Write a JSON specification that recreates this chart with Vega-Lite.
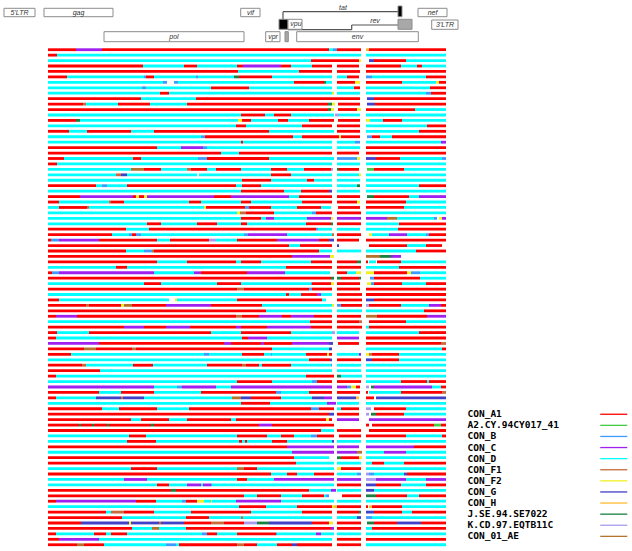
{
"$schema":"https://vega.github.io/schema/vega-lite/v6.json",
"width":632,"height":551,"padding":0,"autosize":{"type":"none"},"background":"white",
"config":{"view":{"stroke":null}},
"datasets":{
"genes":[
{"gene":"5'LTR","start":4,"end":35,"top":0.83,"bottom":1.67,"kind":"box"},
{"gene":"gag","start":44,"end":113,"top":0.83,"bottom":1.67,"kind":"box"},
{"gene":"vif","start":240.7,"end":260,"top":0.83,"bottom":1.67,"kind":"box"},
{"gene":"nef","start":418,"end":447,"top":0.83,"bottom":1.67,"kind":"box"},
{"gene":"tat exon 2","start":398,"end":402,"top":0.6,"bottom":1.67,"kind":"tat"},
{"gene":"tat exon 1","start":279,"end":288,"top":1.93,"bottom":2.93,"kind":"tat"},
{"gene":"vpu","start":288,"end":302,"top":1.93,"bottom":2.93,"kind":"box"},
{"gene":"rev exon 2","start":398,"end":412,"top":1.93,"bottom":2.93,"kind":"rev"},
{"gene":"3'LTR","start":431.7,"end":458,"top":2.0,"bottom":2.93,"kind":"box"},
{"gene":"pol","start":104,"end":244,"top":3.17,"bottom":4.17,"kind":"box"},
{"gene":"vpr","start":265.7,"end":280,"top":3.17,"bottom":4.17,"kind":"box"},
{"gene":"rev exon 1","start":285,"end":288.3,"top":3.17,"bottom":4.17,"kind":"rev"},
{"gene":"env","start":296.7,"end":418.3,"top":3.17,"bottom":4.17,"kind":"box"}
],
"links":[
{"x0":283,"x1":398,"y0":1.17,"y1":1.17},
{"x0":283,"x1":283,"y0":1.17,"y1":2.0},
{"x0":288,"x1":351.7,"y0":2.97,"y1":2.97},
{"x0":351.7,"x1":351.7,"y0":2.5,"y1":2.97},
{"x0":351.7,"x1":398,"y0":2.5,"y1":2.5}
],
"labels":[
{"label":"5'LTR","x":19.5,"y":1.25},
{"label":"gag","x":78.5,"y":1.25},
{"label":"vif","x":250.5,"y":1.25},
{"label":"nef","x":432.5,"y":1.25},
{"label":"tat","x":343,"y":0.82},
{"label":"vpu","x":296,"y":2.43},
{"label":"rev","x":375,"y":2.13},
{"label":"3'LTR","x":445,"y":2.47},
{"label":"pol","x":174,"y":3.67},
{"label":"vpr","x":273,"y":3.67},
{"label":"env","x":357.5,"y":3.67}
],
"segments":[
{"row":1,"start":48,"end":76,"subtype":"CON_A1"},{"row":1,"start":76,"end":102,"subtype":"CON_C"},{"row":1,"start":102,"end":329,"subtype":"CON_A1"},{"row":1,"start":329,"end":333,"subtype":"CON_D"},{"row":1,"start":333,"end":337,"subtype":"CON_B"},{"row":1,"start":337,"end":361,"subtype":"CON_A1"},{"row":1,"start":366,"end":369,"subtype":"CON_H"},{"row":1,"start":369,"end":446,"subtype":"CON_A1"},
{"row":2,"start":48,"end":57,"subtype":"CON_A1"},{"row":2,"start":57,"end":361,"subtype":"CON_D"},{"row":2,"start":366,"end":446,"subtype":"CON_D"},
{"row":3,"start":48,"end":311,"subtype":"CON_D"},{"row":3,"start":311,"end":359,"subtype":"CON_A1"},{"row":3,"start":359,"end":361,"subtype":"CON_F2"},{"row":3,"start":369,"end":374,"subtype":"CON_G"},{"row":3,"start":374,"end":406,"subtype":"CON_A1"},{"row":3,"start":406,"end":446,"subtype":"CON_D"},
{"row":4,"start":48,"end":143,"subtype":"CON_A1"},{"row":4,"start":143,"end":184,"subtype":"CON_D"},{"row":4,"start":184,"end":197,"subtype":"CON_A1"},{"row":4,"start":197,"end":237,"subtype":"CON_D"},{"row":4,"start":237,"end":243,"subtype":"CON_A1"},{"row":4,"start":243,"end":281,"subtype":"CON_C"},{"row":4,"start":281,"end":291,"subtype":"CON_A1"},{"row":4,"start":291,"end":312,"subtype":"CON_D"},{"row":4,"start":312,"end":332,"subtype":"CON_A1"},{"row":4,"start":337,"end":359,"subtype":"CON_A1"},{"row":4,"start":366,"end":401,"subtype":"CON_A1"},{"row":4,"start":401,"end":417,"subtype":"CON_D"},{"row":4,"start":417,"end":422,"subtype":"CON_A1"},{"row":4,"start":422,"end":446,"subtype":"CON_D"},
{"row":5,"start":48,"end":238,"subtype":"CON_A1"},{"row":5,"start":238,"end":299,"subtype":"CON_D"},{"row":5,"start":299,"end":332,"subtype":"CON_A1"},{"row":5,"start":337,"end":360,"subtype":"CON_A1"},{"row":5,"start":366,"end":446,"subtype":"CON_A1"},
{"row":6,"start":48,"end":67,"subtype":"CON_A1"},{"row":6,"start":67,"end":144,"subtype":"CON_D"},{"row":6,"start":144,"end":146,"subtype":"CON_B"},{"row":6,"start":146,"end":154,"subtype":"CON_A1"},{"row":6,"start":154,"end":196,"subtype":"CON_D"},{"row":6,"start":196,"end":198,"subtype":"CON_B"},{"row":6,"start":198,"end":234,"subtype":"CON_D"},{"row":6,"start":234,"end":239,"subtype":"J.SE.94.SE7022"},{"row":6,"start":239,"end":272,"subtype":"CON_A1"},{"row":6,"start":272,"end":332,"subtype":"CON_D"},{"row":6,"start":337,"end":347,"subtype":"CON_D"},{"row":6,"start":347,"end":359,"subtype":"CON_A1"},{"row":6,"start":366,"end":372,"subtype":"CON_B"},{"row":6,"start":372,"end":426,"subtype":"CON_D"},{"row":6,"start":426,"end":446,"subtype":"CON_A1"},
{"row":7,"start":48,"end":163,"subtype":"CON_D"},{"row":7,"start":163,"end":167,"subtype":"CON_B"},{"row":7,"start":174,"end":178,"subtype":"CON_B"},{"row":7,"start":178,"end":294,"subtype":"CON_D"},{"row":7,"start":294,"end":324,"subtype":"CON_A1"},{"row":7,"start":324,"end":326,"subtype":"J.SE.94.SE7022"},{"row":7,"start":326,"end":332,"subtype":"CON_D"},{"row":7,"start":337,"end":355,"subtype":"CON_A1"},{"row":7,"start":355,"end":360,"subtype":"CON_F2"},{"row":7,"start":366,"end":402,"subtype":"CON_A1"},{"row":7,"start":402,"end":436,"subtype":"CON_D"},{"row":7,"start":436,"end":439,"subtype":"CON_F2"},{"row":7,"start":439,"end":446,"subtype":"CON_A1"},
{"row":8,"start":48,"end":142,"subtype":"CON_D"},{"row":8,"start":142,"end":146,"subtype":"CON_B"},{"row":8,"start":146,"end":211,"subtype":"CON_D"},{"row":8,"start":211,"end":249,"subtype":"CON_A1"},{"row":8,"start":249,"end":332,"subtype":"CON_D"},{"row":8,"start":337,"end":354,"subtype":"CON_D"},{"row":8,"start":354,"end":360,"subtype":"CON_A1"},{"row":8,"start":366,"end":430,"subtype":"CON_D"},{"row":8,"start":430,"end":446,"subtype":"CON_A1"},
{"row":9,"start":48,"end":160,"subtype":"CON_D"},{"row":9,"start":160,"end":169,"subtype":"CON_A1"},{"row":9,"start":169,"end":332,"subtype":"CON_D"},{"row":9,"start":332,"end":334,"subtype":"CON_F2"},{"row":9,"start":337,"end":360,"subtype":"CON_D"},{"row":9,"start":366,"end":426,"subtype":"CON_D"},{"row":9,"start":426,"end":431,"subtype":"CON_B"},{"row":9,"start":431,"end":446,"subtype":"CON_A1"},
{"row":10,"start":48,"end":141,"subtype":"CON_A1"},{"row":10,"start":141,"end":196,"subtype":"CON_D"},{"row":10,"start":196,"end":360,"subtype":"CON_A1"},{"row":10,"start":367,"end":374,"subtype":"CON_G"},{"row":10,"start":374,"end":446,"subtype":"CON_A1"},
{"row":11,"start":48,"end":83,"subtype":"CON_A1"},{"row":11,"start":83,"end":86,"subtype":"CON_F1"},{"row":11,"start":86,"end":118,"subtype":"CON_D"},{"row":11,"start":118,"end":150,"subtype":"CON_A1"},{"row":11,"start":150,"end":187,"subtype":"CON_D"},{"row":11,"start":187,"end":328,"subtype":"CON_A1"},{"row":11,"start":328,"end":332,"subtype":"J.SE.94.SE7022"},{"row":11,"start":332,"end":335,"subtype":"CON_F2"},{"row":11,"start":338,"end":360,"subtype":"CON_A1"},{"row":11,"start":367,"end":375,"subtype":"CON_G"},{"row":11,"start":375,"end":446,"subtype":"CON_A1"},
{"row":12,"start":48,"end":328,"subtype":"CON_A1"},{"row":12,"start":328,"end":331,"subtype":"J.SE.94.SE7022"},{"row":12,"start":331,"end":334,"subtype":"CON_F2"},{"row":12,"start":338,"end":357,"subtype":"CON_A1"},{"row":12,"start":357,"end":361,"subtype":"CON_F2"},{"row":12,"start":366,"end":415,"subtype":"CON_A1"},{"row":12,"start":415,"end":446,"subtype":"CON_D"},
{"row":13,"start":48,"end":241,"subtype":"CON_D"},{"row":13,"start":241,"end":265,"subtype":"CON_A1"},{"row":13,"start":265,"end":274,"subtype":"CON_D"},{"row":13,"start":274,"end":291,"subtype":"CON_A1"},{"row":13,"start":291,"end":334,"subtype":"CON_D"},{"row":13,"start":335,"end":339,"subtype":"K.CD.97.EQTB11C"},{"row":13,"start":339,"end":360,"subtype":"CON_D"},{"row":13,"start":366,"end":446,"subtype":"CON_D"},
{"row":14,"start":48,"end":76,"subtype":"CON_A1"},{"row":14,"start":76,"end":80,"subtype":"J.SE.94.SE7022"},{"row":14,"start":80,"end":238,"subtype":"CON_D"},{"row":14,"start":238,"end":242,"subtype":"CON_F2"},{"row":14,"start":242,"end":251,"subtype":"CON_A1"},{"row":14,"start":251,"end":278,"subtype":"CON_D"},{"row":14,"start":278,"end":288,"subtype":"CON_A1"},{"row":14,"start":288,"end":309,"subtype":"CON_D"},{"row":14,"start":309,"end":334,"subtype":"CON_A1"},{"row":14,"start":338,"end":360,"subtype":"CON_A1"},{"row":14,"start":366,"end":370,"subtype":"CON_F2"},{"row":14,"start":370,"end":383,"subtype":"CON_D"},{"row":14,"start":383,"end":402,"subtype":"CON_A1"},{"row":14,"start":402,"end":446,"subtype":"CON_D"},
{"row":15,"start":48,"end":236,"subtype":"CON_D"},{"row":15,"start":236,"end":246,"subtype":"CON_A1"},{"row":15,"start":246,"end":302,"subtype":"CON_D"},{"row":15,"start":302,"end":332,"subtype":"CON_A1"},{"row":15,"start":337,"end":360,"subtype":"CON_A1"},{"row":15,"start":366,"end":427,"subtype":"CON_D"},{"row":15,"start":427,"end":446,"subtype":"CON_A1"},
{"row":16,"start":48,"end":69,"subtype":"CON_A1"},{"row":16,"start":69,"end":87,"subtype":"CON_D"},{"row":16,"start":87,"end":131,"subtype":"CON_A1"},{"row":16,"start":131,"end":154,"subtype":"CON_D"},{"row":16,"start":154,"end":269,"subtype":"CON_A1"},{"row":16,"start":269,"end":334,"subtype":"CON_D"},{"row":16,"start":337,"end":360,"subtype":"CON_A1"},{"row":16,"start":366,"end":419,"subtype":"CON_D"},{"row":16,"start":419,"end":446,"subtype":"CON_A1"},
{"row":17,"start":48,"end":201,"subtype":"CON_D"},{"row":17,"start":201,"end":205,"subtype":"CON_B"},{"row":17,"start":205,"end":293,"subtype":"CON_A1"},{"row":17,"start":293,"end":302,"subtype":"CON_D"},{"row":17,"start":302,"end":339,"subtype":"CON_A1"},{"row":17,"start":339,"end":341,"subtype":"CON_F2"},{"row":17,"start":341,"end":360,"subtype":"CON_A1"},{"row":17,"start":367,"end":372,"subtype":"CON_B"},{"row":17,"start":372,"end":380,"subtype":"CON_A1"},{"row":17,"start":380,"end":392,"subtype":"CON_D"},{"row":17,"start":392,"end":446,"subtype":"CON_A1"},
{"row":18,"start":48,"end":241,"subtype":"CON_D"},{"row":18,"start":241,"end":243,"subtype":"CON_A1"},{"row":18,"start":243,"end":332,"subtype":"CON_D"},{"row":18,"start":337,"end":355,"subtype":"CON_D"},{"row":18,"start":355,"end":360,"subtype":"CON_B"},{"row":18,"start":366,"end":441,"subtype":"CON_D"},{"row":18,"start":441,"end":446,"subtype":"CON_C"},
{"row":19,"start":48,"end":157,"subtype":"CON_A1"},{"row":19,"start":157,"end":181,"subtype":"CON_D"},{"row":19,"start":181,"end":203,"subtype":"CON_C"},{"row":19,"start":203,"end":207,"subtype":"CON_B"},{"row":19,"start":207,"end":332,"subtype":"CON_D"},{"row":19,"start":337,"end":360,"subtype":"CON_D"},{"row":19,"start":366,"end":446,"subtype":"CON_A1"},
{"row":20,"start":48,"end":221,"subtype":"CON_A1"},{"row":20,"start":221,"end":239,"subtype":"CON_D"},{"row":20,"start":239,"end":332,"subtype":"CON_A1"},{"row":20,"start":337,"end":359,"subtype":"CON_A1"},{"row":20,"start":366,"end":446,"subtype":"CON_A1"},
{"row":21,"start":48,"end":64,"subtype":"CON_A1"},{"row":21,"start":64,"end":133,"subtype":"CON_D"},{"row":21,"start":133,"end":141,"subtype":"CON_A1"},{"row":21,"start":141,"end":198,"subtype":"CON_D"},{"row":21,"start":198,"end":207,"subtype":"CON_B"},{"row":21,"start":207,"end":269,"subtype":"CON_A1"},{"row":21,"start":269,"end":334,"subtype":"CON_D"},{"row":21,"start":337,"end":357,"subtype":"CON_B"},{"row":21,"start":357,"end":360,"subtype":"CON_F2"},{"row":21,"start":366,"end":376,"subtype":"CON_G"},{"row":21,"start":376,"end":400,"subtype":"CON_A1"},{"row":21,"start":400,"end":442,"subtype":"CON_D"},{"row":21,"start":442,"end":446,"subtype":"CON_B"},
{"row":22,"start":48,"end":57,"subtype":"CON_A1"},{"row":22,"start":57,"end":332,"subtype":"CON_D"},{"row":22,"start":337,"end":360,"subtype":"CON_D"},{"row":22,"start":366,"end":446,"subtype":"CON_D"},
{"row":23,"start":48,"end":131,"subtype":"CON_D"},{"row":23,"start":131,"end":144,"subtype":"CON_01_AE"},{"row":23,"start":144,"end":161,"subtype":"CON_A1"},{"row":23,"start":161,"end":187,"subtype":"CON_D"},{"row":23,"start":187,"end":191,"subtype":"CON_F1"},{"row":23,"start":191,"end":207,"subtype":"CON_A1"},{"row":23,"start":207,"end":216,"subtype":"CON_D"},{"row":23,"start":216,"end":241,"subtype":"CON_A1"},{"row":23,"start":241,"end":271,"subtype":"CON_D"},{"row":23,"start":271,"end":287,"subtype":"CON_A1"},{"row":23,"start":287,"end":304,"subtype":"CON_D"},{"row":23,"start":304,"end":331,"subtype":"CON_A1"},{"row":23,"start":331,"end":333,"subtype":"K.CD.97.EQTB11C"},{"row":23,"start":337,"end":339,"subtype":"J.SE.94.SE7022"},{"row":23,"start":339,"end":359,"subtype":"CON_A1"},{"row":23,"start":367,"end":374,"subtype":"A2.CY.94CY017_41"},{"row":23,"start":374,"end":404,"subtype":"CON_A1"},{"row":23,"start":404,"end":446,"subtype":"CON_D"},
{"row":24,"start":48,"end":116,"subtype":"CON_D"},{"row":24,"start":116,"end":121,"subtype":"CON_F1"},{"row":24,"start":121,"end":127,"subtype":"CON_G"},{"row":24,"start":127,"end":197,"subtype":"CON_D"},{"row":24,"start":199,"end":271,"subtype":"CON_D"},{"row":24,"start":271,"end":291,"subtype":"CON_A1"},{"row":24,"start":291,"end":332,"subtype":"CON_D"},{"row":24,"start":337,"end":359,"subtype":"CON_D"},{"row":24,"start":359,"end":361,"subtype":"CON_F2"},{"row":24,"start":366,"end":446,"subtype":"CON_D"},
{"row":25,"start":48,"end":242,"subtype":"CON_D"},{"row":25,"start":242,"end":271,"subtype":"CON_A1"},{"row":25,"start":271,"end":307,"subtype":"CON_D"},{"row":25,"start":307,"end":314,"subtype":"CON_A1"},{"row":25,"start":314,"end":332,"subtype":"CON_D"},{"row":25,"start":337,"end":360,"subtype":"CON_D"},{"row":25,"start":366,"end":446,"subtype":"CON_D"},
{"row":26,"start":48,"end":96,"subtype":"CON_A1"},{"row":26,"start":96,"end":102,"subtype":"CON_D"},{"row":26,"start":102,"end":107,"subtype":"CON_B"},{"row":26,"start":107,"end":127,"subtype":"CON_D"},{"row":26,"start":127,"end":236,"subtype":"CON_A1"},{"row":26,"start":236,"end":242,"subtype":"CON_D"},{"row":26,"start":242,"end":261,"subtype":"CON_A1"},{"row":26,"start":261,"end":332,"subtype":"CON_D"},{"row":26,"start":337,"end":357,"subtype":"CON_D"},{"row":26,"start":357,"end":360,"subtype":"J.SE.94.SE7022"},{"row":26,"start":366,"end":419,"subtype":"CON_D"},{"row":26,"start":419,"end":446,"subtype":"CON_A1"},
{"row":27,"start":48,"end":241,"subtype":"CON_D"},{"row":27,"start":241,"end":284,"subtype":"CON_A1"},{"row":27,"start":284,"end":301,"subtype":"CON_D"},{"row":27,"start":301,"end":329,"subtype":"CON_A1"},{"row":27,"start":329,"end":332,"subtype":"CON_G"},{"row":27,"start":337,"end":360,"subtype":"CON_D"},{"row":27,"start":366,"end":446,"subtype":"CON_D"},
{"row":28,"start":48,"end":80,"subtype":"CON_A1"},{"row":28,"start":80,"end":133,"subtype":"CON_C"},{"row":28,"start":133,"end":136,"subtype":"CON_A1"},{"row":28,"start":136,"end":139,"subtype":"CON_F2"},{"row":28,"start":139,"end":144,"subtype":"CON_A1"},{"row":28,"start":144,"end":147,"subtype":"CON_F2"},{"row":28,"start":147,"end":214,"subtype":"CON_C"},{"row":28,"start":214,"end":231,"subtype":"CON_A1"},{"row":28,"start":231,"end":289,"subtype":"CON_C"},{"row":28,"start":289,"end":299,"subtype":"CON_D"},{"row":28,"start":299,"end":332,"subtype":"CON_A1"},{"row":28,"start":337,"end":360,"subtype":"CON_A1"},{"row":28,"start":367,"end":374,"subtype":"J.SE.94.SE7022"},{"row":28,"start":374,"end":409,"subtype":"CON_A1"},{"row":28,"start":409,"end":419,"subtype":"CON_D"},{"row":28,"start":419,"end":446,"subtype":"CON_C"},
{"row":29,"start":48,"end":59,"subtype":"CON_A1"},{"row":29,"start":59,"end":109,"subtype":"CON_D"},{"row":29,"start":109,"end":111,"subtype":"CON_F1"},{"row":29,"start":111,"end":124,"subtype":"CON_A1"},{"row":29,"start":124,"end":189,"subtype":"CON_D"},{"row":29,"start":189,"end":201,"subtype":"CON_A1"},{"row":29,"start":201,"end":241,"subtype":"CON_D"},{"row":29,"start":241,"end":251,"subtype":"CON_A1"},{"row":29,"start":251,"end":302,"subtype":"CON_D"},{"row":29,"start":302,"end":332,"subtype":"CON_A1"},{"row":29,"start":337,"end":357,"subtype":"CON_A1"},{"row":29,"start":357,"end":360,"subtype":"CON_F2"},{"row":29,"start":366,"end":406,"subtype":"CON_A1"},{"row":29,"start":406,"end":446,"subtype":"CON_D"},
{"row":30,"start":48,"end":59,"subtype":"CON_D"},{"row":30,"start":59,"end":87,"subtype":"CON_A1"},{"row":30,"start":87,"end":89,"subtype":"CON_F1"},{"row":30,"start":89,"end":204,"subtype":"CON_D"},{"row":30,"start":204,"end":206,"subtype":"CON_F2"},{"row":30,"start":206,"end":245,"subtype":"CON_A1"},{"row":30,"start":245,"end":249,"subtype":"CON_B"},{"row":30,"start":249,"end":271,"subtype":"CON_A1"},{"row":30,"start":271,"end":297,"subtype":"CON_D"},{"row":30,"start":297,"end":321,"subtype":"CON_A1"},{"row":30,"start":321,"end":331,"subtype":"CON_D"},{"row":30,"start":338,"end":360,"subtype":"CON_A1"},{"row":30,"start":366,"end":404,"subtype":"CON_A1"},{"row":30,"start":404,"end":446,"subtype":"CON_D"},
{"row":31,"start":48,"end":237,"subtype":"CON_D"},{"row":31,"start":237,"end":240,"subtype":"CON_F2"},{"row":31,"start":240,"end":246,"subtype":"CON_F1"},{"row":31,"start":246,"end":274,"subtype":"CON_A1"},{"row":31,"start":274,"end":312,"subtype":"CON_D"},{"row":31,"start":312,"end":316,"subtype":"CON_B"},{"row":31,"start":316,"end":332,"subtype":"CON_A1"},{"row":31,"start":337,"end":361,"subtype":"CON_A1"},{"row":31,"start":366,"end":446,"subtype":"CON_D"},
{"row":32,"start":48,"end":241,"subtype":"CON_D"},{"row":32,"start":241,"end":261,"subtype":"CON_A1"},{"row":32,"start":261,"end":266,"subtype":"CON_D"},{"row":32,"start":266,"end":274,"subtype":"CON_C"},{"row":32,"start":274,"end":307,"subtype":"CON_D"},{"row":32,"start":307,"end":331,"subtype":"CON_C"},{"row":32,"start":331,"end":333,"subtype":"CON_F2"},{"row":32,"start":337,"end":361,"subtype":"CON_C"},{"row":32,"start":366,"end":387,"subtype":"CON_C"},{"row":32,"start":387,"end":397,"subtype":"CON_01_AE"},{"row":32,"start":397,"end":434,"subtype":"CON_D"},{"row":32,"start":434,"end":437,"subtype":"CON_B"},{"row":32,"start":439,"end":442,"subtype":"CON_F2"},{"row":32,"start":442,"end":446,"subtype":"CON_C"},
{"row":33,"start":48,"end":147,"subtype":"CON_D"},{"row":33,"start":147,"end":161,"subtype":"CON_A1"},{"row":33,"start":161,"end":197,"subtype":"CON_D"},{"row":33,"start":197,"end":217,"subtype":"CON_A1"},{"row":33,"start":217,"end":241,"subtype":"CON_D"},{"row":33,"start":241,"end":247,"subtype":"CON_A1"},{"row":33,"start":247,"end":306,"subtype":"CON_D"},{"row":33,"start":306,"end":331,"subtype":"CON_A1"},{"row":33,"start":331,"end":333,"subtype":"J.SE.94.SE7022"},{"row":33,"start":337,"end":361,"subtype":"CON_A1"},{"row":33,"start":366,"end":399,"subtype":"CON_D"},{"row":33,"start":399,"end":446,"subtype":"CON_A1"},
{"row":34,"start":48,"end":126,"subtype":"CON_A1"},{"row":34,"start":126,"end":149,"subtype":"CON_D"},{"row":34,"start":149,"end":316,"subtype":"CON_A1"},{"row":34,"start":316,"end":318,"subtype":"CON_B"},{"row":34,"start":318,"end":332,"subtype":"CON_D"},{"row":34,"start":337,"end":360,"subtype":"CON_D"},{"row":34,"start":366,"end":398,"subtype":"CON_D"},{"row":34,"start":398,"end":446,"subtype":"CON_A1"},
{"row":35,"start":48,"end":112,"subtype":"CON_A1"},{"row":35,"start":112,"end":129,"subtype":"CON_D"},{"row":35,"start":129,"end":132,"subtype":"CON_B"},{"row":35,"start":132,"end":136,"subtype":"CON_A1"},{"row":35,"start":136,"end":141,"subtype":"CON_B"},{"row":35,"start":141,"end":244,"subtype":"CON_D"},{"row":35,"start":244,"end":248,"subtype":"CON_B"},{"row":35,"start":248,"end":287,"subtype":"CON_C"},{"row":35,"start":287,"end":332,"subtype":"CON_D"},{"row":35,"start":332,"end":334,"subtype":"CON_F1"},{"row":35,"start":337,"end":361,"subtype":"CON_A1"},{"row":35,"start":369,"end":372,"subtype":"CON_F2"},{"row":35,"start":372,"end":389,"subtype":"CON_D"},{"row":35,"start":389,"end":407,"subtype":"CON_C"},{"row":35,"start":407,"end":426,"subtype":"CON_D"},{"row":35,"start":426,"end":429,"subtype":"CON_B"},{"row":35,"start":429,"end":446,"subtype":"CON_A1"},
{"row":36,"start":48,"end":51,"subtype":"CON_A1"},{"row":36,"start":51,"end":59,"subtype":"CON_B"},{"row":36,"start":59,"end":99,"subtype":"CON_C"},{"row":36,"start":99,"end":157,"subtype":"CON_A1"},{"row":36,"start":157,"end":170,"subtype":"CON_D"},{"row":36,"start":170,"end":209,"subtype":"CON_A1"},{"row":36,"start":209,"end":216,"subtype":"K.CD.97.EQTB11C"},{"row":36,"start":216,"end":237,"subtype":"CON_D"},{"row":36,"start":237,"end":277,"subtype":"CON_A1"},{"row":36,"start":277,"end":319,"subtype":"CON_C"},{"row":36,"start":319,"end":329,"subtype":"CON_A1"},{"row":36,"start":329,"end":334,"subtype":"CON_G"},{"row":36,"start":337,"end":359,"subtype":"CON_A1"},{"row":36,"start":366,"end":446,"subtype":"CON_A1"},
{"row":37,"start":48,"end":289,"subtype":"CON_A1"},{"row":37,"start":289,"end":300,"subtype":"CON_D"},{"row":37,"start":300,"end":332,"subtype":"CON_A1"},{"row":37,"start":337,"end":339,"subtype":"CON_G"},{"row":37,"start":369,"end":407,"subtype":"CON_A1"},{"row":37,"start":407,"end":426,"subtype":"CON_D"},{"row":37,"start":426,"end":442,"subtype":"CON_A1"},
{"row":38,"start":48,"end":126,"subtype":"CON_A1"},{"row":38,"start":126,"end":144,"subtype":"CON_D"},{"row":38,"start":144,"end":152,"subtype":"CON_B"},{"row":38,"start":152,"end":154,"subtype":"CON_F1"},{"row":38,"start":154,"end":319,"subtype":"CON_A1"},{"row":38,"start":319,"end":332,"subtype":"CON_D"},{"row":38,"start":337,"end":361,"subtype":"CON_D"},{"row":38,"start":366,"end":416,"subtype":"CON_D"},{"row":38,"start":416,"end":446,"subtype":"CON_A1"},
{"row":39,"start":48,"end":292,"subtype":"CON_A1"},{"row":39,"start":292,"end":330,"subtype":"CON_C"},{"row":39,"start":330,"end":334,"subtype":"CON_F2"},{"row":39,"start":366,"end":380,"subtype":"CON_01_AE"},{"row":39,"start":380,"end":391,"subtype":"J.SE.94.SE7022"},{"row":39,"start":391,"end":401,"subtype":"CON_C"},
{"row":40,"start":48,"end":157,"subtype":"CON_A1"},{"row":40,"start":157,"end":187,"subtype":"CON_D"},{"row":40,"start":187,"end":236,"subtype":"CON_A1"},{"row":40,"start":236,"end":241,"subtype":"CON_D"},{"row":40,"start":241,"end":261,"subtype":"CON_A1"},{"row":40,"start":261,"end":311,"subtype":"CON_D"},{"row":40,"start":311,"end":332,"subtype":"CON_A1"},{"row":40,"start":337,"end":357,"subtype":"CON_A1"},{"row":40,"start":357,"end":361,"subtype":"J.SE.94.SE7022"},{"row":40,"start":366,"end":368,"subtype":"CON_A1"},{"row":40,"start":369,"end":376,"subtype":"CON_D"},{"row":40,"start":377,"end":401,"subtype":"CON_A1"},{"row":40,"start":401,"end":446,"subtype":"CON_D"},
{"row":41,"start":48,"end":116,"subtype":"CON_D"},{"row":41,"start":116,"end":127,"subtype":"CON_A1"},{"row":41,"start":127,"end":286,"subtype":"CON_D"},{"row":41,"start":286,"end":332,"subtype":"CON_A1"},{"row":41,"start":337,"end":361,"subtype":"CON_A1"},{"row":41,"start":366,"end":399,"subtype":"CON_D"},{"row":41,"start":399,"end":446,"subtype":"CON_A1"},
{"row":42,"start":48,"end":52,"subtype":"CON_A1"},{"row":42,"start":52,"end":59,"subtype":"CON_B"},{"row":42,"start":59,"end":154,"subtype":"CON_C"},{"row":42,"start":154,"end":194,"subtype":"CON_D"},{"row":42,"start":194,"end":201,"subtype":"CON_C"},{"row":42,"start":201,"end":247,"subtype":"CON_A1"},{"row":42,"start":247,"end":285,"subtype":"CON_C"},{"row":42,"start":285,"end":330,"subtype":"CON_D"},{"row":42,"start":337,"end":347,"subtype":"CON_A1"},{"row":42,"start":347,"end":356,"subtype":"CON_D"},{"row":42,"start":356,"end":361,"subtype":"CON_F2"},{"row":42,"start":366,"end":374,"subtype":"CON_F2"},{"row":42,"start":374,"end":407,"subtype":"CON_A1"},{"row":42,"start":407,"end":411,"subtype":"CON_F2"},{"row":42,"start":411,"end":420,"subtype":"CON_B"},{"row":42,"start":420,"end":446,"subtype":"CON_D"},
{"row":43,"start":48,"end":331,"subtype":"CON_A1"},{"row":43,"start":331,"end":334,"subtype":"J.SE.94.SE7022"},{"row":43,"start":337,"end":341,"subtype":"J.SE.94.SE7022"},{"row":43,"start":341,"end":359,"subtype":"CON_A1"},{"row":43,"start":359,"end":361,"subtype":"J.SE.94.SE7022"},{"row":43,"start":370,"end":374,"subtype":"CON_B"},{"row":43,"start":374,"end":420,"subtype":"CON_A1"},{"row":43,"start":420,"end":446,"subtype":"CON_D"},
{"row":44,"start":48,"end":144,"subtype":"CON_D"},{"row":44,"start":144,"end":161,"subtype":"CON_A1"},{"row":44,"start":161,"end":217,"subtype":"CON_D"},{"row":44,"start":217,"end":241,"subtype":"CON_A1"},{"row":44,"start":241,"end":311,"subtype":"CON_D"},{"row":44,"start":311,"end":312,"subtype":"CON_B"},{"row":44,"start":312,"end":331,"subtype":"CON_A1"},{"row":44,"start":331,"end":334,"subtype":"CON_F2"},{"row":44,"start":337,"end":360,"subtype":"CON_A1"},{"row":44,"start":367,"end":371,"subtype":"CON_F2"},{"row":44,"start":371,"end":374,"subtype":"CON_B"},{"row":44,"start":374,"end":402,"subtype":"CON_A1"},{"row":44,"start":402,"end":426,"subtype":"CON_D"},{"row":44,"start":426,"end":446,"subtype":"CON_A1"},
{"row":45,"start":48,"end":237,"subtype":"CON_A1"},{"row":45,"start":237,"end":244,"subtype":"CON_F1"},{"row":45,"start":244,"end":309,"subtype":"CON_A1"},{"row":45,"start":309,"end":312,"subtype":"CON_B"},{"row":45,"start":312,"end":332,"subtype":"CON_A1"},{"row":45,"start":337,"end":360,"subtype":"CON_A1"},{"row":45,"start":366,"end":446,"subtype":"CON_A1"},
{"row":46,"start":48,"end":286,"subtype":"CON_D"},{"row":46,"start":286,"end":289,"subtype":"CON_A1"},{"row":46,"start":289,"end":301,"subtype":"CON_D"},{"row":46,"start":301,"end":317,"subtype":"CON_A1"},{"row":46,"start":317,"end":321,"subtype":"CON_C"},{"row":46,"start":321,"end":332,"subtype":"CON_D"},{"row":46,"start":337,"end":362,"subtype":"CON_A1"},{"row":46,"start":366,"end":446,"subtype":"CON_A1"},
{"row":47,"start":48,"end":59,"subtype":"CON_A1"},{"row":47,"start":59,"end":169,"subtype":"CON_D"},{"row":47,"start":175,"end":177,"subtype":"CON_F2"},{"row":47,"start":177,"end":237,"subtype":"CON_D"},{"row":47,"start":237,"end":322,"subtype":"CON_A1"},{"row":47,"start":322,"end":326,"subtype":"CON_D"},{"row":47,"start":337,"end":362,"subtype":"CON_A1"},{"row":47,"start":366,"end":374,"subtype":"CON_G"},{"row":47,"start":374,"end":446,"subtype":"CON_A1"},
{"row":48,"start":48,"end":86,"subtype":"CON_A1"},{"row":48,"start":86,"end":89,"subtype":"CON_F1"},{"row":48,"start":89,"end":121,"subtype":"CON_A1"},{"row":48,"start":121,"end":124,"subtype":"CON_F2"},{"row":48,"start":124,"end":132,"subtype":"CON_01_AE"},{"row":48,"start":132,"end":166,"subtype":"CON_A1"},{"row":48,"start":166,"end":211,"subtype":"CON_C"},{"row":48,"start":211,"end":262,"subtype":"CON_A1"},{"row":48,"start":262,"end":332,"subtype":"CON_D"},{"row":48,"start":332,"end":334,"subtype":"CON_F2"},{"row":48,"start":337,"end":341,"subtype":"CON_B"},{"row":48,"start":341,"end":362,"subtype":"CON_A1"},{"row":48,"start":366,"end":369,"subtype":"K.CD.97.EQTB11C"},{"row":48,"start":369,"end":401,"subtype":"CON_A1"},{"row":48,"start":401,"end":429,"subtype":"CON_D"},{"row":48,"start":429,"end":441,"subtype":"CON_C"},{"row":48,"start":441,"end":446,"subtype":"CON_A1"},
{"row":49,"start":48,"end":266,"subtype":"CON_A1"},{"row":49,"start":266,"end":332,"subtype":"CON_D"},{"row":49,"start":337,"end":362,"subtype":"CON_D"},{"row":49,"start":366,"end":424,"subtype":"CON_D"},{"row":49,"start":424,"end":446,"subtype":"CON_A1"},
{"row":50,"start":48,"end":56,"subtype":"CON_A1"},{"row":50,"start":56,"end":77,"subtype":"CON_C"},{"row":50,"start":77,"end":236,"subtype":"CON_A1"},{"row":50,"start":236,"end":242,"subtype":"CON_F1"},{"row":50,"start":242,"end":259,"subtype":"CON_A1"},{"row":50,"start":259,"end":282,"subtype":"CON_C"},{"row":50,"start":282,"end":291,"subtype":"CON_A1"},{"row":50,"start":291,"end":314,"subtype":"CON_C"},{"row":50,"start":314,"end":332,"subtype":"CON_A1"},{"row":50,"start":337,"end":361,"subtype":"CON_A1"},{"row":50,"start":366,"end":377,"subtype":"CON_01_AE"},{"row":50,"start":377,"end":427,"subtype":"CON_A1"},{"row":50,"start":427,"end":446,"subtype":"CON_C"},
{"row":51,"start":48,"end":310,"subtype":"CON_D"},{"row":51,"start":310,"end":332,"subtype":"CON_A1"},{"row":51,"start":337,"end":359,"subtype":"CON_A1"},{"row":51,"start":359,"end":362,"subtype":"CON_F1"},{"row":51,"start":369,"end":406,"subtype":"CON_A1"},{"row":51,"start":406,"end":446,"subtype":"CON_D"},
{"row":52,"start":48,"end":124,"subtype":"CON_A1"},{"row":52,"start":124,"end":144,"subtype":"CON_C"},{"row":52,"start":144,"end":166,"subtype":"CON_A1"},{"row":52,"start":166,"end":190,"subtype":"CON_C"},{"row":52,"start":190,"end":236,"subtype":"CON_A1"},{"row":52,"start":236,"end":241,"subtype":"CON_C"},{"row":52,"start":241,"end":267,"subtype":"CON_A1"},{"row":52,"start":267,"end":311,"subtype":"CON_C"},{"row":52,"start":311,"end":332,"subtype":"CON_A1"},{"row":52,"start":337,"end":362,"subtype":"CON_A1"},{"row":52,"start":366,"end":369,"subtype":"CON_D"},{"row":52,"start":369,"end":446,"subtype":"CON_A1"},
{"row":53,"start":48,"end":57,"subtype":"CON_A1"},{"row":53,"start":57,"end":89,"subtype":"CON_D"},{"row":53,"start":89,"end":211,"subtype":"CON_A1"},{"row":53,"start":211,"end":241,"subtype":"CON_D"},{"row":53,"start":241,"end":291,"subtype":"CON_A1"},{"row":53,"start":291,"end":332,"subtype":"CON_D"},{"row":53,"start":332,"end":335,"subtype":"K.CD.97.EQTB11C"},{"row":53,"start":337,"end":359,"subtype":"CON_D"},{"row":53,"start":366,"end":419,"subtype":"CON_D"},{"row":53,"start":419,"end":446,"subtype":"CON_A1"},
{"row":54,"start":48,"end":56,"subtype":"CON_A1"},{"row":54,"start":56,"end":242,"subtype":"CON_D"},{"row":54,"start":242,"end":248,"subtype":"CON_A1"},{"row":54,"start":248,"end":267,"subtype":"CON_C"},{"row":54,"start":267,"end":332,"subtype":"CON_D"},{"row":54,"start":337,"end":359,"subtype":"CON_C"},{"row":54,"start":366,"end":446,"subtype":"CON_A1"},
{"row":55,"start":48,"end":99,"subtype":"CON_C"},{"row":55,"start":99,"end":224,"subtype":"CON_A1"},{"row":55,"start":224,"end":231,"subtype":"CON_C"},{"row":55,"start":231,"end":261,"subtype":"CON_A1"},{"row":55,"start":261,"end":264,"subtype":"CON_C"},{"row":55,"start":264,"end":292,"subtype":"CON_A1"},{"row":55,"start":292,"end":329,"subtype":"CON_C"},{"row":55,"start":329,"end":333,"subtype":"CON_G"},{"row":55,"start":338,"end":359,"subtype":"CON_A1"},{"row":55,"start":366,"end":441,"subtype":"CON_A1"},{"row":55,"start":441,"end":446,"subtype":"CON_F1"},
{"row":56,"start":48,"end":84,"subtype":"CON_A1"},{"row":56,"start":84,"end":96,"subtype":"CON_01_AE"},{"row":56,"start":96,"end":132,"subtype":"CON_A1"},{"row":56,"start":132,"end":136,"subtype":"CON_F1"},{"row":56,"start":136,"end":272,"subtype":"CON_A1"},{"row":56,"start":272,"end":329,"subtype":"CON_D"},{"row":56,"start":329,"end":332,"subtype":"CON_G"},{"row":56,"start":366,"end":442,"subtype":"CON_D"},{"row":56,"start":442,"end":446,"subtype":"CON_A1"},
{"row":57,"start":48,"end":71,"subtype":"CON_A1"},{"row":57,"start":71,"end":204,"subtype":"CON_D"},{"row":57,"start":204,"end":209,"subtype":"CON_B"},{"row":57,"start":209,"end":242,"subtype":"CON_D"},{"row":57,"start":242,"end":264,"subtype":"CON_A1"},{"row":57,"start":264,"end":271,"subtype":"CON_D"},{"row":57,"start":271,"end":272,"subtype":"CON_B"},{"row":57,"start":272,"end":306,"subtype":"CON_D"},{"row":57,"start":306,"end":327,"subtype":"CON_A1"},{"row":57,"start":327,"end":329,"subtype":"CON_F2"},{"row":57,"start":329,"end":332,"subtype":"CON_A1"},{"row":57,"start":337,"end":359,"subtype":"CON_D"},{"row":57,"start":359,"end":361,"subtype":"CON_C"},{"row":57,"start":366,"end":369,"subtype":"CON_F2"},{"row":57,"start":369,"end":372,"subtype":"CON_F1"},{"row":57,"start":372,"end":399,"subtype":"CON_A1"},{"row":57,"start":399,"end":446,"subtype":"CON_D"},
{"row":58,"start":48,"end":309,"subtype":"CON_D"},{"row":58,"start":309,"end":330,"subtype":"CON_A1"},{"row":58,"start":330,"end":332,"subtype":"CON_G"},{"row":58,"start":337,"end":361,"subtype":"CON_A1"},{"row":58,"start":366,"end":372,"subtype":"CON_G"},{"row":58,"start":372,"end":399,"subtype":"CON_A1"},{"row":58,"start":399,"end":446,"subtype":"CON_D"},
{"row":59,"start":48,"end":82,"subtype":"CON_A1"},{"row":59,"start":82,"end":86,"subtype":"CON_F1"},{"row":59,"start":86,"end":133,"subtype":"CON_D"},{"row":59,"start":133,"end":153,"subtype":"CON_A1"},{"row":59,"start":153,"end":207,"subtype":"CON_D"},{"row":59,"start":207,"end":242,"subtype":"CON_A1"},{"row":59,"start":242,"end":246,"subtype":"CON_F1"},{"row":59,"start":246,"end":259,"subtype":"CON_A1"},{"row":59,"start":259,"end":262,"subtype":"CON_D"},{"row":59,"start":262,"end":291,"subtype":"CON_A1"},{"row":59,"start":291,"end":331,"subtype":"CON_D"},{"row":59,"start":331,"end":332,"subtype":"CON_B"},{"row":59,"start":337,"end":361,"subtype":"CON_D"},{"row":59,"start":366,"end":446,"subtype":"CON_D"},
{"row":60,"start":48,"end":100,"subtype":"CON_A1"},{"row":60,"start":100,"end":332,"subtype":"CON_D"},{"row":60,"start":337,"end":361,"subtype":"CON_D"},{"row":60,"start":366,"end":446,"subtype":"CON_D"},
{"row":61,"start":48,"end":56,"subtype":"CON_A1"},{"row":61,"start":56,"end":306,"subtype":"CON_D"},{"row":61,"start":306,"end":334,"subtype":"CON_A1"},{"row":61,"start":337,"end":341,"subtype":"J.SE.94.SE7022"},{"row":61,"start":341,"end":362,"subtype":"CON_D"},{"row":61,"start":366,"end":446,"subtype":"CON_D"},
{"row":62,"start":48,"end":237,"subtype":"CON_D"},{"row":62,"start":237,"end":272,"subtype":"CON_A1"},{"row":62,"start":272,"end":312,"subtype":"CON_D"},{"row":62,"start":312,"end":317,"subtype":"CON_B"},{"row":62,"start":317,"end":332,"subtype":"CON_A1"},{"row":62,"start":337,"end":361,"subtype":"CON_A1"},{"row":62,"start":366,"end":401,"subtype":"CON_D"},{"row":62,"start":401,"end":427,"subtype":"CON_A1"},{"row":62,"start":427,"end":429,"subtype":"CON_D"},{"row":62,"start":429,"end":446,"subtype":"CON_A1"},
{"row":63,"start":48,"end":154,"subtype":"CON_C"},{"row":63,"start":154,"end":177,"subtype":"CON_D"},{"row":63,"start":177,"end":182,"subtype":"CON_B"},{"row":63,"start":182,"end":216,"subtype":"CON_C"},{"row":63,"start":216,"end":231,"subtype":"CON_D"},{"row":63,"start":231,"end":332,"subtype":"CON_C"},{"row":63,"start":337,"end":347,"subtype":"CON_C"},{"row":63,"start":347,"end":351,"subtype":"CON_B"},{"row":63,"start":351,"end":356,"subtype":"CON_F2"},{"row":63,"start":356,"end":360,"subtype":"CON_A1"},{"row":63,"start":366,"end":369,"subtype":"K.CD.97.EQTB11C"},{"row":63,"start":371,"end":374,"subtype":"J.SE.94.SE7022"},{"row":63,"start":374,"end":432,"subtype":"CON_C"},{"row":63,"start":432,"end":441,"subtype":"CON_D"},{"row":63,"start":441,"end":446,"subtype":"CON_A1"},
{"row":64,"start":48,"end":99,"subtype":"CON_A1"},{"row":64,"start":99,"end":121,"subtype":"CON_D"},{"row":64,"start":121,"end":154,"subtype":"CON_A1"},{"row":64,"start":154,"end":201,"subtype":"CON_D"},{"row":64,"start":201,"end":276,"subtype":"CON_A1"},{"row":64,"start":276,"end":281,"subtype":"CON_B"},{"row":64,"start":281,"end":309,"subtype":"CON_D"},{"row":64,"start":309,"end":332,"subtype":"CON_A1"},{"row":64,"start":337,"end":360,"subtype":"CON_A1"},{"row":64,"start":366,"end":368,"subtype":"CON_A1"},{"row":64,"start":369,"end":401,"subtype":"CON_D"},{"row":64,"start":401,"end":442,"subtype":"CON_A1"},{"row":64,"start":442,"end":446,"subtype":"CON_F1"},
{"row":65,"start":48,"end":56,"subtype":"CON_A1"},{"row":65,"start":56,"end":96,"subtype":"CON_D"},{"row":65,"start":96,"end":121,"subtype":"CON_G"},{"row":65,"start":121,"end":123,"subtype":"CON_F1"},{"row":65,"start":123,"end":144,"subtype":"CON_G"},{"row":65,"start":144,"end":232,"subtype":"CON_D"},{"row":65,"start":232,"end":241,"subtype":"CON_01_AE"},{"row":65,"start":241,"end":251,"subtype":"CON_G"},{"row":65,"start":251,"end":281,"subtype":"CON_A1"},{"row":65,"start":281,"end":312,"subtype":"CON_D"},{"row":65,"start":312,"end":324,"subtype":"CON_G"},{"row":65,"start":324,"end":332,"subtype":"CON_C"},{"row":65,"start":337,"end":356,"subtype":"CON_G"},{"row":65,"start":356,"end":359,"subtype":"CON_H"},{"row":65,"start":366,"end":374,"subtype":"CON_A1"},{"row":65,"start":376,"end":446,"subtype":"CON_G"},
{"row":66,"start":48,"end":241,"subtype":"CON_D"},{"row":66,"start":241,"end":270,"subtype":"CON_A1"},{"row":66,"start":270,"end":327,"subtype":"CON_D"},{"row":66,"start":327,"end":336,"subtype":"CON_C"},{"row":66,"start":337,"end":359,"subtype":"CON_D"},{"row":66,"start":366,"end":446,"subtype":"CON_D"},
{"row":67,"start":48,"end":102,"subtype":"CON_A1"},{"row":67,"start":102,"end":119,"subtype":"CON_D"},{"row":67,"start":119,"end":157,"subtype":"CON_A1"},{"row":67,"start":157,"end":189,"subtype":"CON_D"},{"row":67,"start":189,"end":311,"subtype":"CON_A1"},{"row":67,"start":311,"end":319,"subtype":"CON_B"},{"row":67,"start":319,"end":334,"subtype":"CON_A1"},{"row":67,"start":337,"end":341,"subtype":"CON_D"},{"row":67,"start":341,"end":359,"subtype":"CON_A1"},{"row":67,"start":366,"end":371,"subtype":"K.CD.97.EQTB11C"},{"row":67,"start":374,"end":406,"subtype":"CON_A1"},{"row":67,"start":406,"end":446,"subtype":"CON_D"},
{"row":68,"start":48,"end":329,"subtype":"CON_A1"},{"row":68,"start":329,"end":334,"subtype":"CON_G"},{"row":68,"start":337,"end":359,"subtype":"CON_A1"},{"row":68,"start":366,"end":369,"subtype":"K.CD.97.EQTB11C"},{"row":68,"start":371,"end":376,"subtype":"J.SE.94.SE7022"},{"row":68,"start":376,"end":404,"subtype":"CON_A1"},{"row":68,"start":404,"end":446,"subtype":"CON_D"},
{"row":69,"start":48,"end":131,"subtype":"CON_A1"},{"row":69,"start":131,"end":141,"subtype":"CON_D"},{"row":69,"start":141,"end":169,"subtype":"CON_A1"},{"row":69,"start":169,"end":187,"subtype":"CON_D"},{"row":69,"start":187,"end":231,"subtype":"CON_A1"},{"row":69,"start":231,"end":236,"subtype":"CON_D"},{"row":69,"start":236,"end":326,"subtype":"CON_A1"},{"row":69,"start":326,"end":329,"subtype":"CON_F2"},{"row":69,"start":329,"end":332,"subtype":"CON_A1"},{"row":69,"start":337,"end":359,"subtype":"CON_C"},{"row":69,"start":369,"end":446,"subtype":"CON_C"},
{"row":70,"start":48,"end":79,"subtype":"CON_A1"},{"row":70,"start":79,"end":81,"subtype":"J.SE.94.SE7022"},{"row":70,"start":81,"end":92,"subtype":"CON_A1"},{"row":70,"start":92,"end":94,"subtype":"J.SE.94.SE7022"},{"row":70,"start":94,"end":107,"subtype":"CON_A1"},{"row":70,"start":107,"end":109,"subtype":"J.SE.94.SE7022"},{"row":70,"start":109,"end":151,"subtype":"CON_A1"},{"row":70,"start":151,"end":154,"subtype":"J.SE.94.SE7022"},{"row":70,"start":154,"end":259,"subtype":"CON_A1"},{"row":70,"start":259,"end":272,"subtype":"CON_C"},{"row":70,"start":272,"end":334,"subtype":"CON_A1"},{"row":70,"start":366,"end":369,"subtype":"CON_A1"},{"row":70,"start":372,"end":434,"subtype":"CON_A1"},{"row":70,"start":434,"end":441,"subtype":"A2.CY.94CY017_41"},{"row":70,"start":441,"end":446,"subtype":"CON_A1"},
{"row":71,"start":48,"end":321,"subtype":"CON_A1"},{"row":71,"start":321,"end":334,"subtype":"CON_D"},{"row":71,"start":337,"end":361,"subtype":"CON_A1"},{"row":71,"start":369,"end":446,"subtype":"CON_A1"},
{"row":72,"start":48,"end":129,"subtype":"CON_D"},{"row":72,"start":129,"end":146,"subtype":"CON_A1"},{"row":72,"start":146,"end":237,"subtype":"CON_D"},{"row":72,"start":237,"end":267,"subtype":"CON_A1"},{"row":72,"start":267,"end":281,"subtype":"CON_D"},{"row":72,"start":281,"end":294,"subtype":"CON_A1"},{"row":72,"start":294,"end":311,"subtype":"CON_D"},{"row":72,"start":311,"end":317,"subtype":"CON_B"},{"row":72,"start":317,"end":334,"subtype":"CON_A1"},{"row":72,"start":339,"end":361,"subtype":"CON_A1"},{"row":72,"start":366,"end":406,"subtype":"CON_A1"},{"row":72,"start":406,"end":442,"subtype":"CON_D"},{"row":72,"start":442,"end":446,"subtype":"CON_A1"},
{"row":73,"start":48,"end":127,"subtype":"CON_D"},{"row":73,"start":127,"end":156,"subtype":"CON_A1"},{"row":73,"start":156,"end":239,"subtype":"CON_D"},{"row":73,"start":239,"end":242,"subtype":"CON_A1"},{"row":73,"start":242,"end":245,"subtype":"CON_D"},{"row":73,"start":245,"end":247,"subtype":"CON_A1"},{"row":73,"start":247,"end":272,"subtype":"CON_D"},{"row":73,"start":272,"end":287,"subtype":"CON_A1"},{"row":73,"start":287,"end":332,"subtype":"CON_D"},{"row":73,"start":332,"end":334,"subtype":"CON_G"},{"row":73,"start":337,"end":361,"subtype":"CON_D"},{"row":73,"start":366,"end":446,"subtype":"CON_D"},
{"row":74,"start":48,"end":287,"subtype":"CON_A1"},{"row":74,"start":287,"end":334,"subtype":"CON_C"},{"row":74,"start":337,"end":359,"subtype":"CON_C"},{"row":74,"start":366,"end":414,"subtype":"CON_C"},{"row":74,"start":414,"end":446,"subtype":"CON_A1"},
{"row":75,"start":48,"end":292,"subtype":"CON_D"},{"row":75,"start":292,"end":334,"subtype":"CON_C"},{"row":75,"start":337,"end":357,"subtype":"CON_C"},{"row":75,"start":357,"end":362,"subtype":"CON_01_AE"},{"row":75,"start":366,"end":384,"subtype":"CON_D"},{"row":75,"start":384,"end":406,"subtype":"CON_C"},{"row":75,"start":406,"end":446,"subtype":"CON_D"},
{"row":76,"start":48,"end":294,"subtype":"CON_A1"},{"row":76,"start":294,"end":329,"subtype":"CON_D"},{"row":76,"start":337,"end":341,"subtype":"J.SE.94.SE7022"},{"row":76,"start":341,"end":359,"subtype":"CON_A1"},{"row":76,"start":359,"end":362,"subtype":"CON_F2"},{"row":76,"start":366,"end":446,"subtype":"CON_D"},
{"row":77,"start":48,"end":296,"subtype":"CON_A1"},{"row":77,"start":296,"end":334,"subtype":"CON_D"},{"row":77,"start":337,"end":361,"subtype":"CON_D"},{"row":77,"start":366,"end":372,"subtype":"CON_D"},{"row":77,"start":372,"end":384,"subtype":"CON_A1"},{"row":77,"start":384,"end":404,"subtype":"CON_D"},{"row":77,"start":404,"end":446,"subtype":"CON_A1"},
{"row":78,"start":48,"end":131,"subtype":"CON_D"},{"row":78,"start":131,"end":157,"subtype":"CON_A1"},{"row":78,"start":157,"end":237,"subtype":"CON_D"},{"row":78,"start":237,"end":244,"subtype":"CON_01_AE"},{"row":78,"start":244,"end":257,"subtype":"CON_A1"},{"row":78,"start":257,"end":334,"subtype":"CON_D"},{"row":78,"start":337,"end":341,"subtype":"CON_F2"},{"row":78,"start":341,"end":361,"subtype":"CON_A1"},{"row":78,"start":366,"end":446,"subtype":"CON_D"},
{"row":79,"start":48,"end":271,"subtype":"CON_A1"},{"row":79,"start":271,"end":287,"subtype":"CON_D"},{"row":79,"start":287,"end":297,"subtype":"CON_A1"},{"row":79,"start":297,"end":314,"subtype":"CON_D"},{"row":79,"start":314,"end":334,"subtype":"CON_A1"},{"row":79,"start":337,"end":357,"subtype":"CON_D"},{"row":79,"start":357,"end":361,"subtype":"CON_B"},{"row":79,"start":366,"end":369,"subtype":"K.CD.97.EQTB11C"},{"row":79,"start":369,"end":374,"subtype":"CON_B"},{"row":79,"start":374,"end":404,"subtype":"CON_D"},{"row":79,"start":404,"end":407,"subtype":"CON_G"},{"row":79,"start":407,"end":446,"subtype":"CON_A1"},
{"row":80,"start":48,"end":124,"subtype":"CON_D"},{"row":80,"start":124,"end":147,"subtype":"CON_C"},{"row":80,"start":147,"end":237,"subtype":"CON_D"},{"row":80,"start":237,"end":247,"subtype":"CON_A1"},{"row":80,"start":247,"end":274,"subtype":"CON_D"},{"row":80,"start":274,"end":334,"subtype":"CON_C"},{"row":80,"start":337,"end":361,"subtype":"CON_C"},{"row":80,"start":366,"end":376,"subtype":"K.CD.97.EQTB11C"},{"row":80,"start":376,"end":406,"subtype":"CON_C"},{"row":80,"start":406,"end":426,"subtype":"CON_D"},{"row":80,"start":426,"end":446,"subtype":"CON_C"},
{"row":81,"start":48,"end":157,"subtype":"CON_D"},{"row":81,"start":157,"end":169,"subtype":"CON_A1"},{"row":81,"start":169,"end":187,"subtype":"CON_D"},{"row":81,"start":187,"end":201,"subtype":"CON_C"},{"row":81,"start":201,"end":203,"subtype":"CON_D"},{"row":81,"start":203,"end":211,"subtype":"CON_C"},{"row":81,"start":211,"end":212,"subtype":"CON_B"},{"row":81,"start":212,"end":334,"subtype":"CON_D"},{"row":81,"start":337,"end":361,"subtype":"CON_A1"},{"row":81,"start":366,"end":376,"subtype":"CON_G"},{"row":81,"start":376,"end":401,"subtype":"CON_A1"},{"row":81,"start":401,"end":426,"subtype":"CON_D"},{"row":81,"start":426,"end":446,"subtype":"CON_A1"},
{"row":82,"start":48,"end":171,"subtype":"CON_A1"},{"row":82,"start":171,"end":176,"subtype":"J.SE.94.SE7022"},{"row":82,"start":176,"end":309,"subtype":"CON_A1"},{"row":82,"start":309,"end":331,"subtype":"CON_D"},{"row":82,"start":331,"end":336,"subtype":"CON_C"},{"row":82,"start":337,"end":361,"subtype":"CON_D"},{"row":82,"start":366,"end":374,"subtype":"CON_G"},{"row":82,"start":374,"end":446,"subtype":"CON_D"},
{"row":83,"start":48,"end":244,"subtype":"CON_A1"},{"row":83,"start":244,"end":257,"subtype":"CON_D"},{"row":83,"start":257,"end":281,"subtype":"CON_A1"},{"row":83,"start":281,"end":302,"subtype":"CON_D"},{"row":83,"start":302,"end":324,"subtype":"CON_A1"},{"row":83,"start":324,"end":326,"subtype":"CON_D"},{"row":83,"start":326,"end":329,"subtype":"CON_B"},{"row":83,"start":342,"end":361,"subtype":"CON_A1"},{"row":83,"start":366,"end":376,"subtype":"J.SE.94.SE7022"},{"row":83,"start":376,"end":407,"subtype":"CON_A1"},{"row":83,"start":407,"end":419,"subtype":"CON_D"},{"row":83,"start":419,"end":446,"subtype":"CON_A1"},
{"row":84,"start":48,"end":56,"subtype":"CON_A1"},{"row":84,"start":56,"end":136,"subtype":"CON_C"},{"row":84,"start":136,"end":156,"subtype":"CON_A1"},{"row":84,"start":156,"end":182,"subtype":"CON_D"},{"row":84,"start":182,"end":186,"subtype":"CON_B"},{"row":84,"start":186,"end":197,"subtype":"CON_A1"},{"row":84,"start":197,"end":204,"subtype":"CON_F2"},{"row":84,"start":204,"end":211,"subtype":"CON_D"},{"row":84,"start":211,"end":212,"subtype":"CON_F2"},{"row":84,"start":212,"end":236,"subtype":"CON_D"},{"row":84,"start":236,"end":281,"subtype":"CON_C"},{"row":84,"start":281,"end":334,"subtype":"CON_D"},{"row":84,"start":337,"end":361,"subtype":"CON_D"},{"row":84,"start":366,"end":446,"subtype":"CON_D"},
{"row":85,"start":48,"end":239,"subtype":"CON_D"},{"row":85,"start":239,"end":266,"subtype":"CON_A1"},{"row":85,"start":266,"end":297,"subtype":"CON_D"},{"row":85,"start":297,"end":332,"subtype":"CON_A1"},{"row":85,"start":332,"end":334,"subtype":"CON_F2"},{"row":85,"start":334,"end":337,"subtype":"CON_H"},{"row":85,"start":337,"end":361,"subtype":"CON_A1"},{"row":85,"start":366,"end":368,"subtype":"CON_A1"},{"row":85,"start":369,"end":372,"subtype":"CON_H"},{"row":85,"start":372,"end":402,"subtype":"CON_A1"},{"row":85,"start":402,"end":446,"subtype":"CON_D"},
{"row":86,"start":48,"end":106,"subtype":"CON_A1"},{"row":86,"start":106,"end":111,"subtype":"CON_D"},{"row":86,"start":111,"end":124,"subtype":"CON_F1"},{"row":86,"start":124,"end":154,"subtype":"CON_A1"},{"row":86,"start":154,"end":191,"subtype":"CON_D"},{"row":86,"start":191,"end":251,"subtype":"CON_A1"},{"row":86,"start":251,"end":302,"subtype":"CON_D"},{"row":86,"start":302,"end":332,"subtype":"CON_A1"},{"row":86,"start":337,"end":359,"subtype":"CON_A1"},{"row":86,"start":359,"end":361,"subtype":"J.SE.94.SE7022"},{"row":86,"start":366,"end":374,"subtype":"CON_G"},{"row":86,"start":374,"end":402,"subtype":"CON_A1"},{"row":86,"start":402,"end":412,"subtype":"CON_D"},{"row":86,"start":412,"end":446,"subtype":"CON_A1"},
{"row":87,"start":48,"end":122,"subtype":"CON_A1"},{"row":87,"start":122,"end":186,"subtype":"CON_D"},{"row":87,"start":186,"end":209,"subtype":"CON_A1"},{"row":87,"start":209,"end":241,"subtype":"CON_D"},{"row":87,"start":241,"end":243,"subtype":"CON_F1"},{"row":87,"start":243,"end":332,"subtype":"CON_D"},{"row":87,"start":337,"end":357,"subtype":"CON_D"},{"row":87,"start":357,"end":361,"subtype":"CON_G"},{"row":87,"start":366,"end":372,"subtype":"CON_B"},{"row":87,"start":372,"end":446,"subtype":"CON_D"},
{"row":88,"start":48,"end":81,"subtype":"CON_A1"},{"row":88,"start":81,"end":129,"subtype":"CON_G"},{"row":88,"start":129,"end":131,"subtype":"CON_F2"},{"row":88,"start":131,"end":159,"subtype":"CON_G"},{"row":88,"start":159,"end":161,"subtype":"CON_F1"},{"row":88,"start":161,"end":184,"subtype":"CON_G"},{"row":88,"start":184,"end":211,"subtype":"CON_A1"},{"row":88,"start":211,"end":224,"subtype":"CON_F1"},{"row":88,"start":224,"end":244,"subtype":"CON_A1"},{"row":88,"start":244,"end":257,"subtype":"K.CD.97.EQTB11C"},{"row":88,"start":257,"end":269,"subtype":"J.SE.94.SE7022"},{"row":88,"start":269,"end":312,"subtype":"CON_G"},{"row":88,"start":312,"end":329,"subtype":"CON_A1"},{"row":88,"start":329,"end":333,"subtype":"CON_F2"},{"row":88,"start":337,"end":361,"subtype":"CON_A1"},{"row":88,"start":367,"end":374,"subtype":"J.SE.94.SE7022"},{"row":88,"start":374,"end":397,"subtype":"CON_A1"},{"row":88,"start":397,"end":421,"subtype":"CON_G"},{"row":88,"start":421,"end":446,"subtype":"CON_A1"},
{"row":89,"start":48,"end":132,"subtype":"CON_A1"},{"row":89,"start":132,"end":152,"subtype":"CON_D"},{"row":89,"start":152,"end":159,"subtype":"CON_01_AE"},{"row":89,"start":159,"end":186,"subtype":"CON_D"},{"row":89,"start":186,"end":331,"subtype":"CON_A1"},{"row":89,"start":331,"end":334,"subtype":"CON_C"},{"row":89,"start":337,"end":361,"subtype":"CON_A1"},{"row":89,"start":366,"end":372,"subtype":"CON_D"},{"row":89,"start":372,"end":446,"subtype":"CON_A1"},
{"row":90,"start":48,"end":56,"subtype":"CON_A1"},{"row":90,"start":56,"end":94,"subtype":"CON_D"},{"row":90,"start":94,"end":106,"subtype":"CON_A1"},{"row":90,"start":106,"end":111,"subtype":"CON_D"},{"row":90,"start":111,"end":127,"subtype":"CON_A1"},{"row":90,"start":127,"end":202,"subtype":"CON_D"},{"row":90,"start":202,"end":207,"subtype":"CON_B"},{"row":90,"start":207,"end":217,"subtype":"CON_A1"},{"row":90,"start":217,"end":237,"subtype":"CON_D"},{"row":90,"start":237,"end":276,"subtype":"CON_A1"},{"row":90,"start":276,"end":277,"subtype":"CON_B"},{"row":90,"start":277,"end":316,"subtype":"CON_D"},{"row":90,"start":316,"end":321,"subtype":"CON_C"},{"row":90,"start":321,"end":334,"subtype":"CON_D"},{"row":90,"start":337,"end":361,"subtype":"CON_D"},{"row":90,"start":366,"end":446,"subtype":"CON_D"},
{"row":91,"start":48,"end":59,"subtype":"CON_A1"},{"row":91,"start":59,"end":99,"subtype":"CON_C"},{"row":91,"start":99,"end":332,"subtype":"CON_D"},{"row":91,"start":337,"end":361,"subtype":"CON_A1"},{"row":91,"start":366,"end":446,"subtype":"CON_A1"},
{"row":92,"start":48,"end":77,"subtype":"CON_A1"},{"row":92,"start":77,"end":84,"subtype":"CON_01_AE"},{"row":92,"start":84,"end":104,"subtype":"CON_A1"},{"row":92,"start":104,"end":166,"subtype":"CON_D"},{"row":92,"start":166,"end":176,"subtype":"CON_B"},{"row":92,"start":176,"end":179,"subtype":"CON_D"},{"row":92,"start":179,"end":237,"subtype":"CON_A1"},{"row":92,"start":237,"end":244,"subtype":"CON_F1"},{"row":92,"start":244,"end":257,"subtype":"CON_A1"},{"row":92,"start":257,"end":277,"subtype":"CON_D"},{"row":92,"start":277,"end":292,"subtype":"CON_A1"},{"row":92,"start":292,"end":297,"subtype":"CON_G"},{"row":92,"start":297,"end":332,"subtype":"CON_A1"},{"row":92,"start":337,"end":361,"subtype":"CON_A1"},{"row":92,"start":366,"end":446,"subtype":"CON_D"}
]},
"layer":[
{"layer":[
{"data":{"name":"links"},"mark":{"type":"rule","color":"#555555","strokeWidth":1.2},
"encoding":{"x":{"field":"x0","type":"quantitative","scale":{"domain":[0,632],"nice":false,"zero":false},"axis":null},"x2":{"field":"x1"},
"y":{"field":"y0","type":"quantitative","scale":{"domain":[0,55.1],"reverse":true,"nice":false,"zero":false},"axis":null},"y2":{"field":"y1"}}},
{"data":{"name":"genes"},"mark":{"type":"rect","stroke":"#8c8c8c","strokeWidth":1},
"encoding":{"x":{"field":"start","type":"quantitative","axis":null},"x2":{"field":"end"},
"y":{"field":"top","type":"quantitative","axis":null},"y2":{"field":"bottom"},
"fill":{"field":"kind","type":"nominal","scale":{"domain":["box","tat","rev"],"range":["#ffffff","#000000","#a8a8a8"]},"legend":null}}},
{"data":{"name":"labels"},"mark":{"type":"text","font":"Liberation Sans","fontSize":7,"fontStyle":"italic","color":"#333333","baseline":"middle","align":"center"},
"encoding":{"x":{"field":"x","type":"quantitative","axis":null},"y":{"field":"y","type":"quantitative","axis":null},"text":{"field":"label"}}}
]},
{"data":{"name":"segments"},"mark":{"type":"rule","strokeWidth":2.8,"strokeCap":"butt"},
"encoding":{"x":{"field":"start","type":"quantitative","scale":{"domain":[0,632],"nice":false,"zero":false},"axis":null},"x2":{"field":"end"},
"y":{"field":"row","type":"quantitative","scale":{"domain":[-8.136,93.15],"reverse":true,"nice":false,"zero":false},"axis":null},
"color":{"field":"subtype","type":"nominal","scale":{"domain":["CON_A1","A2.CY.94CY017_41","CON_B","CON_C","CON_D","CON_F1","CON_F2","CON_G","CON_H","J.SE.94.SE7022","K.CD.97.EQTB11C","CON_01_AE"],"range":["#ff0000","#44cc44","#3d9bff","#a020f0","#00ffff","#c86a3c","#f0f020","#4040c8","#ffbb33","#1a8040","#aa99ee","#b5732e"]},
"legend":{"title":null,"orient":"none","legendX":609,"legendY":409.5,"padding":0,"symbolType":"M-10,0H10","symbolSize":7.3,"symbolStrokeWidth":1.3,"symbolOpacity":1,"labelOffset":-151,"labelFont":"DejaVu Sans Mono","labelFontSize":9.5,"labelFontWeight":"bold","labelColor":"#000000","labelBaseline":"middle","rowPadding":0.1,"labelLimit":200}}}}
],
"resolve":{"scale":{"y":"independent"}}
}
